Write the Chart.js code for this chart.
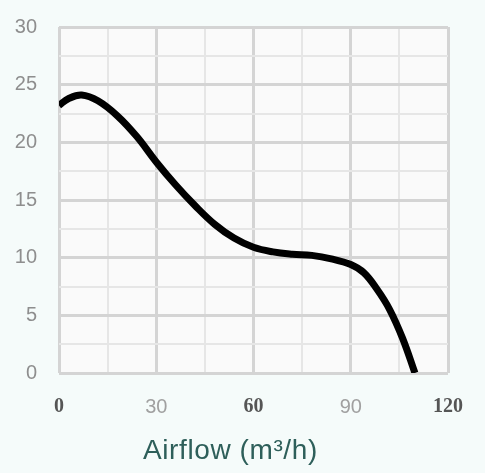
<!DOCTYPE html>
<html>
<head>
<meta charset="utf-8">
<script src="https://cdn.jsdelivr.net/npm/chart.js@4"></script>
<style>
  html, body { margin: 0; padding: 0; background: #f5fbfa; }
  #wrap { position: relative; width: 485px; height: 473px; }
  #xtitle { position: absolute; left: 143px; top: 434px; font: 28px "Liberation Sans", Arial, sans-serif; color: #2e5f5a; letter-spacing: 0.6px; white-space: nowrap; }
</style>
</head>
<body>
<div id="wrap">
  <canvas id="c" width="485" height="473"></canvas>
  <div id="xtitle">Airflow (m³/h)</div>
</div>
<script>
const airflow  = [0, 3, 7, 12, 18, 24, 30, 36, 42, 48, 54, 60, 66, 72, 78, 84, 90, 94, 98, 102, 106, 109.8];
const pressure = [23.2, 23.8, 24.1, 23.6, 22.3, 20.5, 18.3, 16.3, 14.5, 12.9, 11.7, 10.9, 10.5, 10.3, 10.2, 9.9, 9.4, 8.7, 7.3, 5.5, 3.0, 0];
const xLabels = [0, 30, 60, 90, 120];
const yLabels = [0, 5, 10, 15, 20, 25, 30];
const boldX = [0, 60, 120];

const points = airflow.map((x, i) => ({ x: x, y: pressure[i] }));

const plotBg = {
  id: 'plotBg',
  beforeDraw(chart) {
    const { ctx, chartArea: a } = chart;
    ctx.save();
    ctx.fillStyle = '#fafafa';
    ctx.fillRect(a.left, a.top, a.right - a.left, a.bottom - a.top);
    ctx.restore();
  }
};

function tv(ctx) { return ctx && ctx.tick ? ctx.tick.value : null; }

new Chart(document.getElementById('c'), {
  type: 'line',
  data: {
    datasets: [{
      data: points,
      borderColor: '#000000',
      borderWidth: 7,
      pointRadius: 0,
      tension: 0.4,
      fill: false
    }]
  },
  options: {
    responsive: false,
    animation: false,
    layout: { padding: { left: 15, right: 33, top: 27, bottom: 54 } },
    plugins: { legend: { display: false }, tooltip: { enabled: false } },
    scales: {
      x: {
        type: 'linear',
        min: 0, max: 120,
        border: { display: false },
        afterFit: s => { s.height = 46; },
        grid: {
          drawTicks: false,
          color: ctx => (tv(ctx) !== null && tv(ctx) % 30 === 0) ? '#d4d4d4' : '#e6e6e6',
          lineWidth: ctx => (tv(ctx) !== null && tv(ctx) % 30 === 0) ? 3 : 2
        },
        ticks: {
          stepSize: 15,
          autoSkip: false,
          maxRotation: 0,
          padding: 22,
          callback: v => xLabels.includes(v) ? String(v) : '',
          color: ctx => boldX.includes(tv(ctx)) ? '#555555' : '#a0a0a0',
          font: ctx => boldX.includes(tv(ctx))
            ? { family: '"Liberation Serif", "DejaVu Serif", serif', size: 20, weight: 'bold' }
            : { family: '"Liberation Sans", Arial, sans-serif', size: 20 }
        }
      },
      y: {
        type: 'linear',
        min: 0, max: 30,
        border: { display: false },
        afterFit: s => { s.width = 44; s.paddingTop = 0; s.paddingBottom = 0; },
        grid: {
          drawTicks: false,
          color: ctx => (tv(ctx) !== null && tv(ctx) % 5 === 0) ? '#d4d4d4' : '#e6e6e6',
          lineWidth: ctx => (tv(ctx) !== null && tv(ctx) % 5 === 0) ? 3 : 2
        },
        ticks: {
          stepSize: 2.5,
          autoSkip: false,
          padding: 22,
          callback: v => yLabels.includes(v) ? String(v) : '',
          color: '#8e8e8e',
          font: { family: '"Liberation Sans", Arial, sans-serif', size: 20 }
        }
      }
    }
  },
  plugins: [plotBg]
});
</script>
</body>
</html>
